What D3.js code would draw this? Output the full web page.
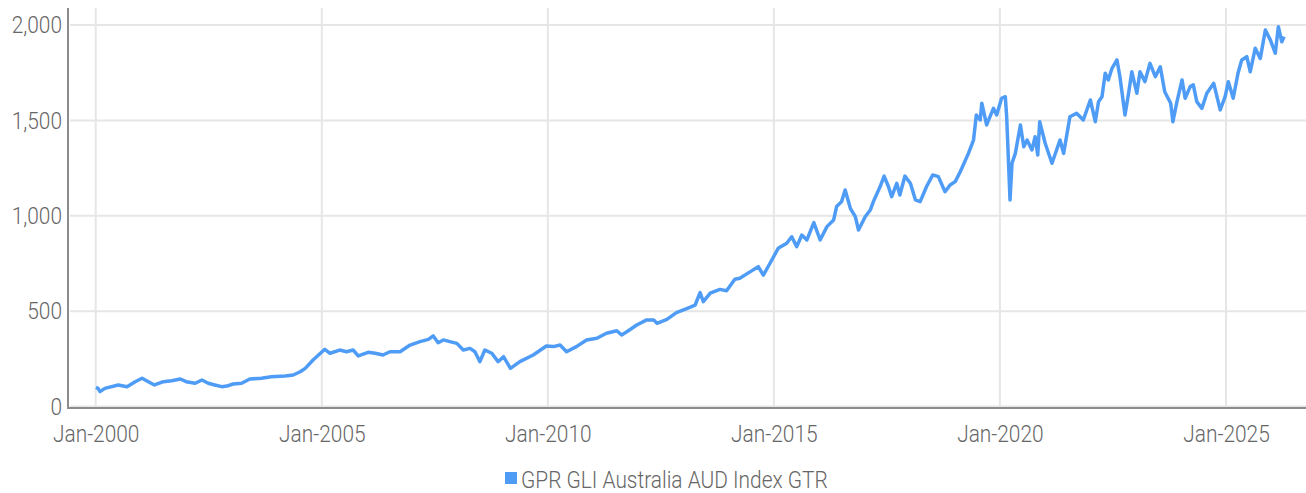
<!DOCTYPE html>
<html>
<head>
<meta charset="utf-8">
<script src="https://cdn.jsdelivr.net/npm/d3@7/dist/d3.min.js"></script>
<style>
  html, body { margin: 0; padding: 0; background: #fff; }
  svg { display: block; }
  text { font-family: Roboto, "Noto Sans", sans-serif; font-weight: 300; }
</style>
</head>
<body>
<svg id="chart" width="1306" height="493"></svg>
<script>
const seriesName = "GPR GLI Australia AUD Index GTR";
const dates = [
"2000-01-03","2000-01-20","2000-02-05","2000-03-15","2000-07-01","2000-09-10","2000-11-15",
"2001-01-10","2001-03-01","2001-04-20","2001-07-01","2001-09-05","2001-11-15",
"2002-01-01","2002-03-15","2002-05-08","2002-06-28","2002-08-20","2002-10-15","2002-11-25",
"2003-01-15","2003-03-25","2003-05-30","2003-09-01","2003-11-20",
"2004-03-10","2004-05-15","2004-07-10","2004-08-20","2004-10-22",
"2005-01-25","2005-03-08","2005-05-25","2005-07-20","2005-09-12","2005-10-22",
"2006-01-10","2006-03-08","2006-05-10","2006-07-05","2006-09-25","2006-12-15",
"2007-03-05","2007-05-12","2007-06-20","2007-07-30","2007-09-10","2007-11-01","2007-12-28",
"2008-02-18","2008-04-12","2008-05-22","2008-07-01","2008-08-10","2008-10-05","2008-11-25",
"2009-01-08","2009-03-05","2009-05-20","2009-09-05","2009-12-20",
"2010-02-15","2010-04-10","2010-06-01","2010-08-20","2010-11-10",
"2011-02-01","2011-04-20","2011-07-12","2011-08-20","2011-10-01","2011-12-20",
"2012-03-10","2012-05-05","2012-06-01","2012-08-20","2012-11-05",
"2013-02-01","2013-04-05","2013-05-15","2013-06-10","2013-08-05","2013-10-22","2013-12-15",
"2014-02-20","2014-04-01","2014-06-25","2014-08-28","2014-10-08","2014-12-01",
"2015-02-05","2015-04-15","2015-05-25","2015-07-05","2015-08-15","2015-09-25","2015-11-20",
"2016-01-10","2016-03-05","2016-04-28","2016-05-22","2016-07-01","2016-07-30","2016-09-10","2016-10-20","2016-11-15",
"2017-01-08","2017-02-18","2017-03-15","2017-05-08","2017-06-10","2017-07-15","2017-08-10","2017-09-20","2017-10-15","2017-11-25",
"2018-01-08","2018-02-18","2018-03-28","2018-05-18","2018-07-08","2018-08-22","2018-10-15","2018-11-25",
"2019-01-05","2019-02-15","2019-04-22","2019-06-02","2019-06-25","2019-07-26","2019-08-08","2019-09-16","2019-11-10","2019-12-06",
"2020-01-15","2020-02-14","2020-02-25","2020-03-23","2020-04-08","2020-05-05","2020-06-15","2020-07-12","2020-08-08","2020-09-16","2020-10-12","2020-11-02","2020-11-18",
"2021-01-01","2021-02-25","2021-05-01","2021-05-30","2021-07-20","2021-09-12","2021-11-05",
"2022-01-01","2022-02-10","2022-03-08","2022-04-05","2022-05-01","2022-05-26","2022-06-25","2022-08-04","2022-08-28","2022-10-08","2022-11-06","2022-12-02",
"2023-01-12","2023-02-06","2023-03-18","2023-04-28","2023-06-10","2023-07-20","2023-08-25","2023-10-12","2023-10-30","2023-12-02",
"2024-01-12","2024-02-06","2024-03-18","2024-04-12","2024-05-10","2024-06-20","2024-07-30","2024-09-24","2024-11-15","2024-12-25",
"2025-01-20","2025-02-28","2025-04-08","2025-05-08","2025-06-18","2025-07-16","2025-08-25","2025-10-05","2025-11-15","2025-12-25",
"2026-02-03","2026-02-28","2026-03-28","2026-04-15"
];
const values = [
100,95,78,95,113,104,130,
148,130,113,130,135,144,
130,122,139,122,113,104,107,
118,122,144,148,156,
160,165,182,200,244,
300,279,296,287,296,265,
284,279,270,287,287,322,
340,352,370,334,349,340,331,
296,305,287,235,296,279,235,
261,200,235,270,317,
314,322,287,314,349,
358,384,397,375,392,427,
454,454,436,457,492,
515,532,597,550,594,614,607,
667,672,707,733,689,751,
829,856,890,838,899,873,964,
873,943,978,1048,1074,1135,1039,995,925,
995,1030,1074,1152,1208,1152,1100,1170,1109,1208,
1170,1083,1074,1152,1214,1205,1126,1161,
1179,1231,1327,1397,1528,1502,1590,1476,1563,1528,
1616,1624,1519,1083,1275,1327,1476,1362,1397,1345,1414,1318,1493,
1380,1275,1397,1327,1519,1537,1502,
1607,1493,1598,1624,1747,1712,1773,1817,1729,1528,1642,1755,
1642,1755,1703,1799,1729,1781,1650,1590,1493,1598,
1712,1616,1677,1686,1598,1563,1642,1694,1555,1624,
1703,1616,1747,1817,1834,1755,1878,1825,1974,1922,
1852,1991,1912,1939
];
const yTicks = [0, 500, 1000, 1500, 2000];
const xTickYears = [2000, 2005, 2010, 2015, 2020, 2025];

const parse = d3.timeParse("%Y-%m-%d");
const data = dates.map((d, i) => ({ date: parse(d), value: values[i] }));

const svg = d3.select("#chart");
const plotLeft = 68, plotRight = 1306, plotTop = 8, plotBottom = 408;
const FS = 24, SQUEEZE = 0.87, TXT = "#666";

const x = d3.scaleTime()
  .domain([new Date(2000, 0, 1), new Date(2025, 0, 1)])
  .range([95.7, 1226]);
const y = d3.scaleLinear().domain([0, 2000]).range([406.5, 25]);

const xTicks = xTickYears.map(yr => new Date(yr, 0, 1));

function condense(sel) {
  sel.each(function () {
    const w = this.getComputedTextLength();
    d3.select(this).attr("textLength", w * SQUEEZE).attr("lengthAdjust", "spacingAndGlyphs");
  });
}

// grid
svg.append("g").selectAll("line").data(yTicks).join("line")
  .attr("x1", plotLeft + 2).attr("x2", plotRight)
  .attr("y1", d => y(d)).attr("y2", d => y(d))
  .attr("stroke", "#e6e6e6").attr("stroke-width", 2);
svg.append("g").selectAll("line").data(xTicks).join("line")
  .attr("x1", d => x(d)).attr("x2", d => x(d))
  .attr("y1", plotTop).attr("y2", plotBottom - 1)
  .attr("stroke", "#e6e6e6").attr("stroke-width", 2);

// axes
const yAxis = d3.axisLeft(y).tickValues(yTicks).tickSize(0).tickPadding(6)
  .tickFormat(d3.format(","));
const gy = svg.append("g").attr("transform", `translate(${plotLeft},0)`).call(yAxis);
gy.select(".domain").remove();
gy.selectAll("text").attr("font-size", FS).attr("fill", TXT)
  .attr("font-family", "Roboto, sans-serif").attr("font-weight", 300).call(condense);

const xAxis = d3.axisBottom(x).tickValues(xTicks).tickSize(0).tickPadding(17)
  .tickFormat(d3.timeFormat("%b-%Y"));
const gx = svg.append("g").attr("transform", `translate(0,${plotBottom})`).call(xAxis);
gx.select(".domain").remove();
gx.selectAll("text").attr("font-size", FS).attr("fill", TXT)
  .attr("font-family", "Roboto, sans-serif").attr("font-weight", 300).call(condense);

svg.append("line").attr("x1", plotLeft).attr("x2", plotLeft)
  .attr("y1", plotTop).attr("y2", plotBottom + 1)
  .attr("stroke", "#8c8c8c").attr("stroke-width", 2);
svg.append("line").attr("x1", plotLeft).attr("x2", plotRight)
  .attr("y1", plotBottom).attr("y2", plotBottom)
  .attr("stroke", "#8c8c8c").attr("stroke-width", 2);

// line
const line = d3.line().x(d => x(d.date)).y(d => y(d.value));
svg.append("path").datum(data)
  .attr("fill", "none").attr("stroke", "#4f9cf6").attr("stroke-width", 3.5)
  .attr("stroke-linejoin", "round").attr("d", line);

// legend
const lg = svg.append("g").attr("transform", "translate(505,472)");
lg.append("rect").attr("width", 12).attr("height", 12).attr("fill", "#4f9cf6");
lg.append("text").attr("x", 16).attr("y", 16).attr("font-size", FS).attr("fill", TXT)
  .text(seriesName).call(condense);
</script>
</body>
</html>
